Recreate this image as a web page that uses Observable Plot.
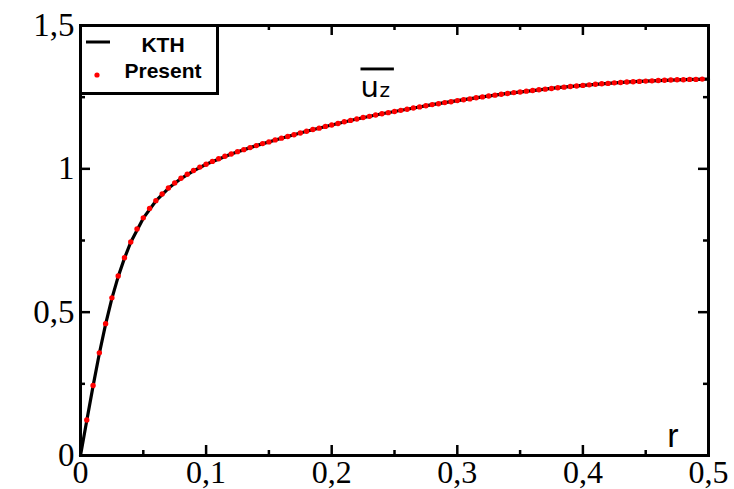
<!DOCTYPE html>
<html><head><meta charset="utf-8">
<script src="https://cdn.jsdelivr.net/npm/d3@7"></script>
<script src="https://cdn.jsdelivr.net/npm/@observablehq/plot@0.6"></script>
<style>
body{margin:0;background:#fff;}
#wrap{position:relative;width:734px;height:489px;overflow:hidden;background:#fff;}
#legend{position:absolute;left:79px;top:24px;width:140px;height:71px;border:3px solid #000;box-sizing:border-box;background:#fff;}
#legend svg{position:absolute;left:0;top:0;}
</style></head><body><div id="wrap"></div>
<script>
// Present (red dots)
const rPresent = [0.005,0.010,0.015,0.020,0.025,0.030,0.035,0.040,0.045,0.050,0.055,0.060,0.065,0.070,0.075,0.080,0.085,0.090,0.095,0.100,
0.105,0.110,0.115,0.120,0.125,0.130,0.135,0.140,0.145,0.150,0.155,0.160,0.165,0.170,0.175,0.180,0.185,0.190,0.195,0.200,
0.205,0.210,0.215,0.220,0.225,0.230,0.235,0.240,0.245,0.250,0.255,0.260,0.265,0.270,0.275,0.280,0.285,0.290,0.295,0.300,
0.305,0.310,0.315,0.320,0.325,0.330,0.335,0.340,0.345,0.350,0.355,0.360,0.365,0.370,0.375,0.380,0.385,0.390,0.395,0.400,
0.405,0.410,0.415,0.420,0.425,0.430,0.435,0.440,0.445,0.450,0.455,0.460,0.465,0.470,0.475,0.480,0.485,0.490,0.495];
const uPresent = [0.124,0.244,0.358,0.460,0.550,0.626,0.690,0.745,0.790,0.829,0.862,0.889,0.912,0.933,0.951,0.967,0.981,0.994,1.006,1.016,
1.026,1.035,1.044,1.052,1.060,1.067,1.074,1.081,1.088,1.094,1.101,1.107,1.113,1.119,1.125,1.131,1.137,1.142,1.148,1.153,
1.158,1.164,1.169,1.174,1.179,1.183,1.188,1.192,1.196,1.200,1.204,1.208,1.212,1.216,1.220,1.224,1.227,1.231,1.234,1.238,
1.241,1.244,1.248,1.251,1.254,1.257,1.260,1.263,1.266,1.268,1.271,1.273,1.276,1.278,1.280,1.283,1.285,1.287,1.289,1.291,
1.293,1.295,1.297,1.298,1.300,1.301,1.303,1.304,1.305,1.306,1.307,1.308,1.309,1.310,1.311,1.311,1.312,1.312,1.313];
// KTH (black line)
const rKTH = [0,0.005,0.010,0.015,0.020,0.025,0.030,0.035,0.040,0.050,0.060,0.070,0.080,0.090,0.100,0.120,0.140,0.160,0.180,0.200,
0.220,0.240,0.260,0.280,0.300,0.320,0.340,0.360,0.380,0.400,0.420,0.440,0.460,0.480,0.500];
const uKTH = [0,0.122,0.242,0.356,0.458,0.548,0.624,0.688,0.744,0.828,0.888,0.932,0.966,0.993,1.016,1.052,1.081,1.107,1.131,1.153,
1.174,1.192,1.208,1.224,1.238,1.251,1.263,1.273,1.283,1.291,1.298,1.304,1.308,1.311,1.313];
// axes
const xTicks = [0,0.1,0.2,0.3,0.4,0.5];
const xTickLabels = ["0","0,1","0,2","0,3","0,4","0,5"];
const xMinor = [0.05,0.15,0.25,0.35,0.45];
const yTicks = [0,0.5,1,1.5];
const yTickLabels = ["0","0,5","1","1,5"];
const yMinor = [0.25,0.75,1.25];
const seriesNames = ["KTH","Present"];

const W = 734, H = 489, mL = 80, mR = 26, mT = 25, mB = 34;
const pw = W - mL - mR, ph = H - mT - mB;
const present = rPresent.map((r,i)=>({r, u:uPresent[i]}));
const kth = rKTH.map((r,i)=>({r, u:uKTH[i]}));
const serif = "Liberation Serif, Times New Roman, serif";
const sans = "Liberation Sans, Arial, sans-serif";
const dejavu = "DejaVu Sans, sans-serif";

const chart = Plot.plot({
  width: W, height: H,
  marginLeft: mL, marginRight: mR, marginTop: mT, marginBottom: mB,
  x: {domain:[0,0.5], axis:null},
  y: {domain:[0,1.5], axis:null},
  marks: [
    Plot.line(kth, {x:"r", y:"u", stroke:"#000", strokeWidth:3.2}),
    Plot.dot(present, {x:"r", y:"u", r:2.7, fill:"#ff0000", stroke:null}),
    // inward ticks on all four sides
    Plot.tickX(xTicks, {x:d=>d, stroke:"#000", strokeWidth:2.5, insetTop: ph-10}),
    Plot.tickX(xMinor, {x:d=>d, stroke:"#000", strokeWidth:2.5, insetTop: ph-5}),
    Plot.tickX(xTicks, {x:d=>d, stroke:"#000", strokeWidth:2.5, insetBottom: ph-10}),
    Plot.tickX(xMinor, {x:d=>d, stroke:"#000", strokeWidth:2.5, insetBottom: ph-5}),
    Plot.tickY(yTicks, {y:d=>d, stroke:"#000", strokeWidth:2.5, insetRight: pw-10}),
    Plot.tickY(yMinor, {y:d=>d, stroke:"#000", strokeWidth:2.5, insetRight: pw-5}),
    Plot.tickY(yTicks, {y:d=>d, stroke:"#000", strokeWidth:2.5, insetLeft: pw-10}),
    Plot.tickY(yMinor, {y:d=>d, stroke:"#000", strokeWidth:2.5, insetLeft: pw-5}),
    Plot.frame({stroke:"#000", strokeWidth:3}),
    Plot.axisX(xTicks, {label:null, tickSize:0, tickPadding:5, tickFormat:d=>xTickLabels[xTicks.indexOf(d)], fontSize:32, fontFamily:serif, fill:"#000"}),
    Plot.axisY(yTicks, {label:null, tickSize:0, tickPadding:6, tickFormat:d=>yTickLabels[yTicks.indexOf(d)], fontSize:33, fontFamily:serif, fill:"#000"}),
    Plot.text(["r"], {frameAnchor:"bottom-right", dx:-30, dy:-9, textAnchor:"end", lineAnchor:"bottom", fontSize:34, fontFamily:sans, fill:"#000"}),
    // u with overline extended over the following z
    Plot.text(["u\u00A0\u2009"], {frameAnchor:"top-left", dx:280, dy:71, textAnchor:"start", lineAnchor:"bottom", fontSize:29, fontFamily:dejavu, fill:"#000"}),
    Plot.text(["z"], {frameAnchor:"top-left", dx:299, dy:71, textAnchor:"start", lineAnchor:"bottom", fontSize:20, fontFamily:dejavu, fill:"#000"})
  ]
});
chart.style.overflow = "visible";
d3.select(chart).selectAll("text").filter(function(){return this.textContent.startsWith("u\u00A0");})
  .style("text-decoration", "overline").attr("xml:space", "preserve").style("white-space", "pre");
const wrap = document.getElementById("wrap");
wrap.appendChild(chart);

// legend
const leg = document.createElement("div");
leg.id = "legend";
leg.innerHTML = `<svg width="134" height="65" xmlns="http://www.w3.org/2000/svg">
  <line x1="4" x2="28" y1="15" y2="15" stroke="#000" stroke-width="3"/>
  <circle cx="15" cy="48" r="2.6" fill="#ff0000"/>
  <text x="81" y="25" text-anchor="middle" font-family="${sans}" font-weight="bold" font-size="21">${seriesNames[0]}</text>
  <text x="81" y="51" text-anchor="middle" font-family="${sans}" font-weight="bold" font-size="21">${seriesNames[1]}</text>
</svg>`;
wrap.appendChild(leg);
</script></body></html>
